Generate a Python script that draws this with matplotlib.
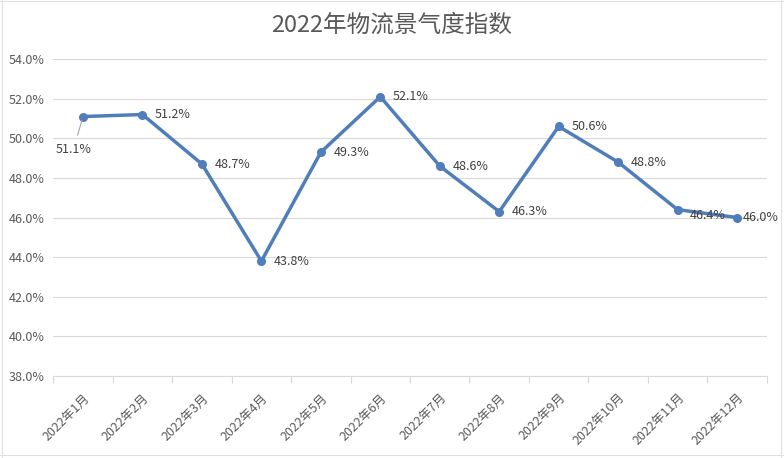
import matplotlib
matplotlib.use("Agg")
import matplotlib.pyplot as plt
from matplotlib.lines import Line2D

plt.rcParams['font.family'] = ['Noto Sans CJK SC', 'DejaVu Sans']
plt.rcParams['axes.unicode_minus'] = False

# 2022 logistics index, percent
months = ["2022年%d月" % m for m in range(1, 13)]
values = [51.1, 51.2, 48.7, 43.8, 49.3, 52.1, 48.6, 46.3, 50.6, 48.8, 46.4, 46.0]
y_ticks = [38, 40, 42, 44, 46, 48, 50, 52, 54]

line_color = "#4F7EBB"
text_color = "#595959"
grid_color = "#D9D9D9"

fig = plt.figure(figsize=(7.84, 4.58), dpi=100)
ax = fig.add_axes([0.068, 0.179, 0.910, 0.692])

x = list(range(len(months)))
ax.plot(x, values, color=line_color, linewidth=2.5, marker='o', markersize=5.5, zorder=3)

ax.set_xlim(-0.5, len(months) - 0.5)
ax.set_ylim(38, 54)
ax.set_yticks(y_ticks)
ax.set_yticklabels(["%.1f%%" % v for v in y_ticks], color=text_color, fontsize=9)
ax.grid(axis='y', color=grid_color, linewidth=0.8)
ax.set_axisbelow(True)

# category labels centered on points, tick marks on the boundaries
ax.set_xticks(x)
ax.set_xticklabels(months, rotation=45, ha='right', rotation_mode='anchor',
                   color=text_color, fontsize=9)
ax.tick_params(axis='x', length=0, pad=11)
ax.tick_params(axis='y', length=0, pad=6)
ax.set_xticks([i - 0.5 for i in range(len(months) + 1)], minor=True)
ax.tick_params(axis='x', which='minor', length=5, color=grid_color, width=0.8)

for s in ['top', 'right', 'left']:
    ax.spines[s].set_visible(False)
ax.spines['bottom'].set_color(grid_color)
ax.spines['bottom'].set_linewidth(0.8)

# data labels
for i, v in enumerate(values):
    label = "%.1f%%" % v
    if i == 0:
        ax.annotate(label, (i, v), xytext=(-7, -24), textcoords='offset points',
                    ha='center', va='center', fontsize=9, color='#404040',
                    arrowprops=dict(arrowstyle='-', color='#A6A6A6', lw=0.8,
                                    shrinkA=4, shrinkB=3))
    elif i == 10:
        ax.annotate(label, (i, v), xytext=(9, -4), textcoords='offset points',
                    ha='left', va='center', fontsize=9, color='#404040')
    elif i == 11:
        ax.annotate(label, (i, v), xytext=(4, 0), textcoords='offset points',
                    ha='left', va='center', fontsize=9, color='#404040')
    else:
        ax.annotate(label, (i, v), xytext=(9, 0), textcoords='offset points',
                    ha='left', va='center', fontsize=9, color='#404040')

fig.text(0.5, 0.945, "2022年物流景气度指数", ha='center', va='center',
         fontsize=17, color=text_color)

# faint worksheet cell borders around the picture
for xs, ys in [([0.003, 0.003], [0, 1]), ([0, 1], [0.997, 0.997]),
               ([0, 1], [0.006, 0.006]), ([0.996, 0.996], [0, 1])]:
    fig.add_artist(Line2D(xs, ys, transform=fig.transFigure, color='#E0E0E0', lw=0.8))

fig.savefig("out.png", dpi=100)
